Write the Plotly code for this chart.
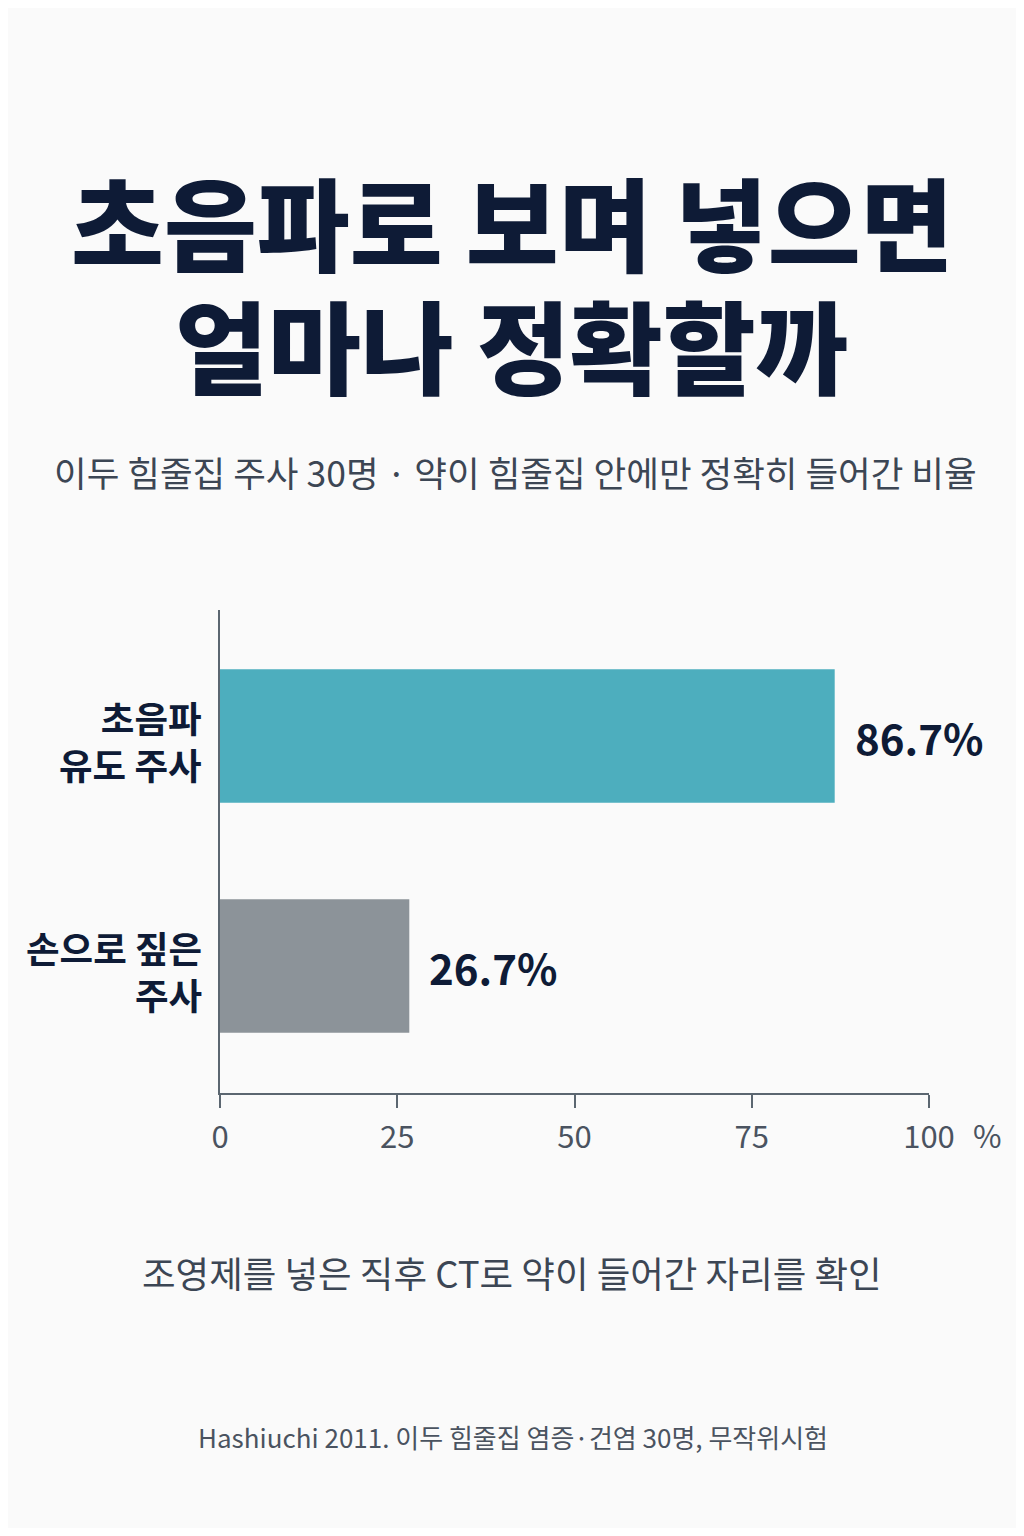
import plotly.graph_objects as go

categories = ["손으로 짚은<br>주사", "초음파<br>유도 주사"]
values = [26.7, 86.7]
value_labels = ["26.7%", "86.7%"]
bar_colors = ["#8C9399", "#4DAEBE"]
x_ticks = [0, 25, 50, 75, 100]

title_lines = ["초음파로 보며 넣으면", "얼마나 정확할까"]
subtitle = "이두 힘줄집 주사 30명 · 약이 힘줄집 안에만 정확히 들어간 비율"
note = "조영제를 넣은 직후 CT로 약이 들어간 자리를 확인"
source = "Hashiuchi 2011. 이두 힘줄집 염증·건염 30명, 무작위시험"

FONT = "Noto Sans CJK KR"
NAVY = "#0E1B36"
GRAY_TXT = "#3C4654"
AXIS = "#5B6670"
BG = "#FAFAFA"

OFF = 8  # page body margin
W, H = 1024 - 2 * OFF, 1536 - 2 * OFF
# plot area in page pixels: x 220..929, y 610..1093
ML, MR = 220 - OFF, W - (929 - OFF)
MT, MB = 610 - OFF, H - (1093 - OFF)
pw, ph = W - ML - MR, H - MT - MB

ypos = list(range(len(categories)))

fig = go.Figure()
fig.add_trace(go.Bar(
    x=values, y=ypos, orientation="h",
    marker=dict(color=bar_colors, line=dict(width=0)),
    width=0.58, hoverinfo="skip",
))

annotations = []
for yv, v, lab, cat in zip(ypos, values, value_labels, categories):
    annotations.append(dict(x=v, y=yv, xref="x", yref="y", text=lab,
                            showarrow=False, xanchor="left", yanchor="middle", xshift=18,
                            font=dict(family=FONT, size=42, color=NAVY, weight=700)))
    annotations.append(dict(x=0, y=yv, xref="x", yref="y", text=cat, align="right",
                            showarrow=False, xanchor="right", yanchor="middle",
                            xshift=-16, yshift=-5,
                            font=dict(family=FONT, size=36.5, color=NAVY, weight=700)))


def page_ann(px, py, text, size, color, weight=400):
    return dict(x=(px - OFF - ML) / pw, y=(H - MB - (py - OFF)) / ph,
                xref="paper", yref="paper", text=text, showarrow=False,
                xanchor="center", yanchor="middle",
                font=dict(family=FONT, size=size, color=color, weight=weight))


annotations += [
    page_ann(512, 220, title_lines[0], 101, NAVY, 900),
    page_ann(512, 343, title_lines[1], 101, NAVY, 900),
    page_ann(515, 472, subtitle, 35.5, GRAY_TXT),
    page_ann(512, 1272, note, 36.5, GRAY_TXT),
    page_ann(513, 1436, source, 26, "#4A5360"),
    page_ann(987, 1134, "%", 31, "#4A5360"),
]

fig.update_layout(
    width=W, height=H,
    margin=dict(l=ML, r=MR, t=MT, b=MB),
    paper_bgcolor=BG, plot_bgcolor=BG,
    showlegend=False,
    annotations=annotations,
    xaxis=dict(range=[0, 100], tickvals=x_ticks, ticktext=[str(t) for t in x_ticks],
               showgrid=False, zeroline=False, showline=True, linecolor=AXIS, linewidth=2,
               ticks="outside", ticklen=13, tickwidth=2, tickcolor=AXIS,
               ticklabelstandoff=3,
               tickfont=dict(family=FONT, size=31, color="#4A5360"), fixedrange=True),
    yaxis=dict(range=[-0.552, 1.548], tickvals=ypos, showticklabels=False,
               showgrid=False, zeroline=False, showline=True, linecolor=AXIS, linewidth=2,
               ticks="", fixedrange=True),
)

fig.write_html("out.html")
